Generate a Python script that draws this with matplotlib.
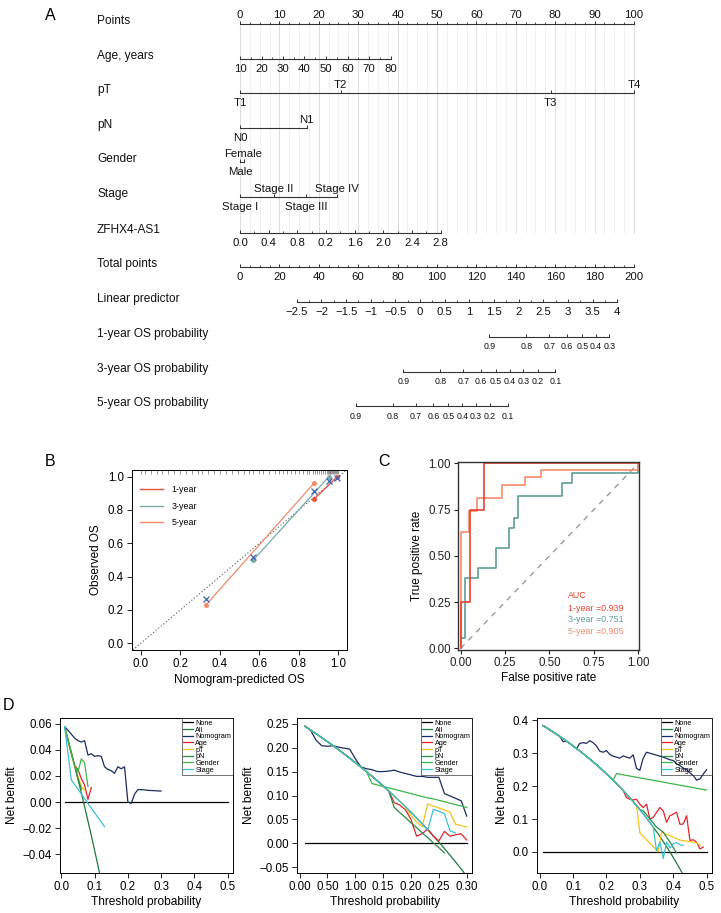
import numpy as np
import matplotlib.pyplot as plt

plt.rcParams['font.family'] = ['Liberation Sans', 'DejaVu Sans']
plt.rcParams['axes.linewidth'] = 0.7

W, H = 721, 913

# ---------------- A: nomogram (positions in "points", 0-100) ----------------
points_ticks = list(range(0, 101, 10))
age_labels = ['10', '20', '30', '40', '50', '60', '70', '80']
age_pts = [0, 5.46, 10.91, 16.37, 21.83, 27.29, 32.74, 38.2]
pt_labels = ['T1', 'T2', 'T3', 'T4']
pt_pts = [0, 25.6, 78.9, 100]
pn_labels = ['N0', 'N1']
pn_pts = [0, 16.9]
gender_labels = ['Female', 'Male']
gender_pts = [0.9, 0]
stage_labels = ['Stage I', 'Stage II', 'Stage III', 'Stage IV']
stage_pts = [0, 8.6, 16.7, 24.5]
zfhx_labels = ['0.0', '0.4', '0.8', '0.2', '1.6', '2.0', '2.4', '2.8']
zfhx_pts = [0, 7.27, 14.54, 21.81, 29.09, 36.36, 43.63, 50.9]
total_ticks = list(range(0, 201, 20))
lp_ticks = [-2.5, -2, -1.5, -1, -0.5, 0, 0.5, 1, 1.5, 2, 2.5, 3, 3.5, 4]
os1_ticks = [0.9, 0.8, 0.7, 0.6, 0.5, 0.4, 0.3]
os3_ticks = [0.9, 0.8, 0.7, 0.6, 0.5, 0.4, 0.3, 0.2, 0.1]
os5_ticks = [0.9, 0.8, 0.7, 0.6, 0.5, 0.4, 0.3, 0.2, 0.1]
# total points where the linear predictor is 0, and per unit of predictor
lp_zero, lp_slope = 91.4, 25.03
# total points offset of log(-log S) for 1, 3, 5 years
os_offset = {1: 182.9, 3: 139.2, 5: 115.0}

# ---------------- B: calibration ----------------
cal1_pred = [0.878, 0.994]
cal1_obs = [0.866, 1.0]
cal3_pred = [0.570, 0.952]
cal3_obs = [0.500, 1.0]
cal5_pred = [0.329, 0.878]
cal5_obs = [0.228, 0.963]
corr_pred = [0.329, 0.570, 0.878, 0.952, 0.994]
corr_obs = [0.264, 0.516, 0.914, 0.976, 0.990]
rug = [0.0, 0.02, 0.05, 0.08, 0.11, 0.14, 0.17, 0.2, 0.23, 0.26, 0.29, 0.31, 0.34, 0.37,
       0.4, 0.43, 0.46, 0.49, 0.52, 0.55, 0.57, 0.6, 0.62, 0.65, 0.68, 0.7, 0.72, 0.74,
       0.76, 0.78, 0.8, 0.82, 0.84, 0.85, 0.87, 0.88, 0.89, 0.9, 0.91, 0.92, 0.93, 0.94,
       0.945, 0.95, 0.955, 0.96, 0.965, 0.97, 0.975, 0.98, 0.985, 0.99, 0.995, 1.0]

# ---------------- C: ROC ----------------
roc1_fpr = [0, 0, 0.055, 0.055, 0.13, 0.13, 1.0]
roc1_tpr = [0, 0.25, 0.25, 0.75, 0.75, 1.0, 1.0]
roc3_fpr = [0, 0, 0.024, 0.024, 0.1, 0.1, 0.2, 0.2, 0.272, 0.272, 0.3, 0.3, 0.325, 0.325,
            0.572, 0.572, 0.625, 0.625, 1.0, 1.0]
roc3_tpr = [0, 0.054, 0.054, 0.378, 0.378, 0.432, 0.432, 0.54, 0.54, 0.649, 0.649, 0.703,
            0.703, 0.822, 0.822, 0.892, 0.892, 0.946, 0.946, 1.0]
roc5_fpr = [0, 0, 0.045, 0.045, 0.09, 0.09, 0.23, 0.23, 0.36, 0.36, 0.455, 0.455, 1.0, 1.0]
roc5_tpr = [0, 0.63, 0.63, 0.74, 0.74, 0.815, 0.815, 0.885, 0.885, 0.925, 0.925, 0.963, 0.963, 1.0]
auc_text = ['1-year =0.939', '3-year =0.751', '5-year =0.905']

# ---------------- D: decision curves ----------------
thr = [round(0.01 * i, 2) for i in range(1, 51)]

# 1-year
d1_all = [0.0573, 0.0477, 0.0378, 0.0278, 0.0176, 0.0071, -0.0036, -0.0145, -0.0256, -0.0370, -0.0487, -0.0606]
d1_nomo = [0.0577, 0.055, 0.052, 0.049, 0.047, 0.046, 0.047, 0.036, 0.037, 0.035, 0.0355, 0.035,
           0.027, 0.025, 0.024, 0.022, 0.027, 0.0255, 0.027, 0.0, -0.001, 0.006, 0.0095, 0.0095,
           0.0093, 0.009, 0.0088, 0.0087, 0.0085, 0.0084]
d1_age = [0.0577, 0.0475, 0.0375, 0.028, 0.025, 0.018, 0.013, 0.002, 0.011]
d1_pt = [0.0577, 0.0475, 0.0375, 0.027, 0.02, 0.012, 0.009]
d1_pn = [0.0577, 0.0475, 0.0375, 0.028, 0.018, 0.01]
d1_gender = [0.0577, 0.048, 0.038, 0.028, 0.023, 0.033, 0.030, 0.012]
d1_stage_x = [0.01, 0.03, 0.13]
d1_stage = [0.0577, 0.017, -0.019]

# 3-year
d3_all = [0.2444, 0.2367, 0.2289, 0.2208, 0.2126, 0.2043, 0.1957, 0.1870, 0.1780, 0.1689,
          0.1595, 0.1500, 0.1402, 0.1302, 0.1200, 0.1095, 0.0988, 0.0878, 0.0765, 0.0650,
          0.0532, 0.0410, 0.0286, 0.0158, 0.0027, -0.0108, -0.0247, -0.0389, -0.0535, -0.0686]
d3_nomo = [0.245, 0.236, 0.215, 0.204, 0.203, 0.204, 0.201, 0.199, 0.197, 0.177, 0.160, 0.156,
           0.154, 0.150, 0.150, 0.151, 0.153, 0.149, 0.146, 0.143, 0.140, 0.140, 0.138, 0.138,
           0.138, 0.104, 0.099, 0.094, 0.089, 0.057]
d3_age = d3_all[:16] + [0.085, 0.080, 0.070, 0.050, 0.015, 0.020, 0.030, 0.015, 0.005, 0.025,
                        0.015, 0.018, 0.020, 0.007]
d3_pt = d3_all[:19] + [0.058, 0.045, 0.035, 0.082, 0.078, 0.074, 0.070, 0.065, 0.040, 0.037, 0.034]
d3_pn = d3_all[:16] + [0.075, 0.064, 0.054, 0.043, 0.033, 0.022, 0.012, 0.001, -0.009, -0.020]
d3_gender = d3_all[:12] + [0.125, 0.122, 0.119, 0.116, 0.113, 0.110, 0.107, 0.104, 0.101,
                           0.098, 0.095, 0.093, 0.090, 0.087, 0.084, 0.081, 0.078, 0.075]
d3_stage = d3_all[:22] + [0.027, 0.071, 0.067, 0.062, 0.026, 0.022]

# 5-year
d5_all = [0.3838, 0.3776, 0.3711, 0.3646, 0.3579, 0.3511, 0.3441, 0.3370, 0.3297, 0.3222,
          0.3146, 0.3068, 0.2988, 0.2906, 0.2824, 0.2738, 0.2651, 0.2561, 0.2469, 0.2375,
          0.2278, 0.2179, 0.2078, 0.1974, 0.1867, 0.1757, 0.1644, 0.1528, 0.1408, 0.1286,
          0.1159, 0.1029, 0.0896, 0.0758, 0.0615, 0.0469, 0.0317, 0.0161, 0.0, -0.0167,
          -0.0339, -0.0517, -0.0702]
d5_nomo = [0.384, 0.378, 0.371, 0.365, 0.358, 0.352, 0.335, 0.337, 0.330, 0.322, 0.313, 0.330,
           0.332, 0.330, 0.338, 0.332, 0.322, 0.306, 0.303, 0.308, 0.296, 0.291, 0.288, 0.285,
           0.292, 0.288, 0.285, 0.295, 0.254, 0.248, 0.285, 0.303, 0.300, 0.297, 0.294, 0.291,
           0.288, 0.284, 0.280, 0.278, 0.268, 0.262, 0.255, 0.250, 0.240, 0.232, 0.218, 0.222,
           0.237, 0.250]
d5_age = d5_all[:25] + [0.165, 0.160, 0.158, 0.160, 0.145, 0.135, 0.145, 0.100, 0.105, 0.120,
                        0.135, 0.125, 0.090, 0.110, 0.115, 0.121, 0.084, 0.085, 0.110, 0.035,
                        0.037, 0.030, 0.009, 0.015]
d5_pt_x = thr[:29] + [0.30, 0.355, 0.365, 0.42, 0.47, 0.48]
d5_pt = d5_all[:29] + [0.058, 0.0, 0.060, 0.036, 0.028, 0.020]
d5_pn = d5_all[:30] + [0.125, 0.113, 0.100, 0.088, 0.075, 0.068, 0.060, 0.045, 0.030, 0.013, -0.003]
d5_gender_x = thr[:22] + [0.23, 0.50]
d5_gender = d5_all[:22] + [0.238, 0.188]
d5_stage = d5_all[:33] + [0.076, 0.003, 0.030, -0.020, 0.030, 0.012, 0.025, 0.028, 0.022, 0.020]

c_none, c_all, c_nomo = 'black', '#1e7a3c', '#1b2c63'
c_age, c_pt, c_pn, c_gender, c_stage = '#e3242b', '#f5c21b', '#2b8a45', '#3cb54a', '#3fc0d2'


def box(l, t, r, b):
    return [l / W, 1 - b / H, (r - l) / W, (b - t) / H]


fig = plt.figure(figsize=(W / 100, H / 100), dpi=100)

# ================= A =================
ax = fig.add_axes([0, 1 - 430 / H, 1, 430 / H])
ax.set_xlim(-240 / 3.94, (W - 240) / 3.94)
ax.set_ylim(430, 0)
ax.axis('off')

# background grid
minor_grid = np.arange(0, 100.1, 2.5)
ax.vlines(minor_grid, 24, 233, color='#f0f0f0', lw=0.7, zorder=0)
ax.vlines(points_ticks, 24, 233, color='#dedede', lw=0.8, zorder=0)

row_y = [24, 59.3, 93.3, 128.3, 162.3, 197.3, 232.7, 267.3, 301.7, 336.7, 371.7, 406]
row_names = ['Points', 'Age, years', 'pT', 'pN', 'Gender', 'Stage', 'ZFHX4-AS1', 'Total points',
             'Linear predictor', '1-year OS probability', '3-year OS probability',
             '5-year OS probability']
for y, name in zip(row_y, row_names):
    ax.text(97 / W, y - 3, name, transform=ax.get_yaxis_transform(), ha='left', va='center',
            fontsize=8.6, color='#111111')

lc = '#333333'


def scale_row(y, pos, labels, sides, minor=None, fs=8.2):
    ax.plot([min(pos), max(pos)], [y, y], color=lc, lw=0.8)
    ax.vlines(pos, y - 3, y, color=lc, lw=0.7)
    if minor is not None:
        ax.vlines(minor, y - 2, y, color=lc, lw=0.6)
    for p, lab, s in zip(pos, labels, sides):
        if s == 'below':
            ax.text(p, y + 10, lab, ha='center', va='center', fontsize=fs, color='#111111')
        else:
            ax.text(p, y - 8.5, lab, ha='center', va='center', fontsize=fs, color='#111111')


scale_row(24, points_ticks, [str(v) for v in points_ticks], ['above'] * 11,
          minor=np.arange(0, 100.1, 2.5))
scale_row(59.3, age_pts, age_labels, ['below'] * 8,
          minor=[(a + b) / 2 for a, b in zip(age_pts[:-1], age_pts[1:])])
scale_row(93.3, pt_pts, pt_labels, ['below', 'above', 'below', 'above'])
scale_row(128.3, pn_pts, pn_labels, ['below', 'above'])
scale_row(162.3, gender_pts, gender_labels, ['above', 'below'])
scale_row(197.3, stage_pts, stage_labels, ['below', 'above', 'below', 'above'])
scale_row(232.7, zfhx_pts, zfhx_labels, ['below'] * 8,
          minor=[(a + b) / 2 for a, b in zip(zfhx_pts[:-1], zfhx_pts[1:])])
scale_row(267.3, [t / 2 for t in total_ticks], [str(t) for t in total_ticks], ['below'] * 11,
          minor=np.arange(0, 100.1, 2.5))
lp_pos = [(lp_zero + lp_slope * v) / 2 for v in lp_ticks]
lp_lab = [('%g' % v).replace('-', '\u2212') for v in lp_ticks]
scale_row(301.7, lp_pos, lp_lab, ['below'] * len(lp_ticks),
          minor=[(a + b) / 2 for a, b in zip(lp_pos[:-1], lp_pos[1:])])
for yr, ticks, y in [(1, os1_ticks, 336.7), (3, os3_ticks, 371.7), (5, os5_ticks, 406)]:
    pos = [(os_offset[yr] + lp_slope * np.log(-np.log(s))) / 2 for s in ticks]
    scale_row(y, pos, ['%.1f' % s for s in ticks], ['below'] * len(ticks), fs=6.3)

# ================= B =================
axb = fig.add_axes(box(132.3, 470, 346.7, 650))
axb.set_xlim(-0.0425, 1.042)
axb.set_ylim(-0.04, 1.04)
axb.plot([-0.04, 1.04], [-0.04, 1.04], ls=(0, (1, 2)), color='#555555', lw=0.8)
axb.vlines(rug, 1.013, 1.04, color='#7a7a7a', lw=0.7, alpha=0.8)
cb1, cb3, cb5, cbx = '#e8503a', '#76aca4', '#f38a6b', '#4163b0'
axb.plot(cal5_pred, cal5_obs, color=cb5, lw=0.9)
axb.plot(cal3_pred, cal3_obs, color=cb3, lw=0.9)
axb.plot(cal1_pred, cal1_obs, color=cb1, lw=0.9)
axb.plot(cal5_pred, cal5_obs, 'o', color=cb5, ms=3.6, mec='none')
axb.plot(cal3_pred, cal3_obs, 'o', color=cb3, ms=3.6, mec='none')
axb.plot(cal1_pred, cal1_obs, 'o', color=cb1, ms=3.6, mec='none')
axb.plot(corr_pred, corr_obs, 'x', color=cbx, ms=4.5, mew=0.9)
h1, = axb.plot([], [], color=cb1, lw=1.0, label='1-year')
h3, = axb.plot([], [], color=cb3, lw=1.0, label='3-year')
h5, = axb.plot([], [], color=cb5, lw=1.0, label='5-year')
axb.legend(handles=[h1, h3, h5], loc='upper left', bbox_to_anchor=(0.0, 0.96), frameon=False,
           fontsize=6.4, handlelength=2.6, labelspacing=0.85, handletextpad=0.9)
axb.set_xticks(np.arange(0, 1.01, 0.2))
axb.set_yticks(np.arange(0, 1.01, 0.2))
axb.xaxis.set_major_formatter(plt.FormatStrFormatter('%.1f'))
axb.yaxis.set_major_formatter(plt.FormatStrFormatter('%.1f'))
axb.tick_params(direction='out', length=3.5, width=0.6, labelsize=8.3, pad=2.5)
axb.set_xlabel('Nomogram-predicted OS', fontsize=8.5, labelpad=3)
axb.set_ylabel('Observed OS', fontsize=8.5, labelpad=4)

# ================= C =================
axc = fig.add_axes(box(457.7, 461.7, 639.3, 650))
axc.set_xlim(-0.017, 1.006)
axc.set_ylim(-0.009, 1.009)
cc1, cc3, cc5 = '#e8412c', '#5e9e93', '#f58b6c'
axc.plot([0, 1], [0, 1], ls=(0, (4, 4)), color='#9a9a9a', lw=1.0)
axc.plot(roc3_fpr, roc3_tpr, color=cc3, lw=1.2)
axc.plot(roc5_fpr, roc5_tpr, color=cc5, lw=1.2)
axc.plot(roc1_fpr, roc1_tpr, color=cc1, lw=1.2)
axc.text(0.605, 0.285, 'AUC', color=cc1, fontsize=6.4, va='center')
for i, (txt, col) in enumerate(zip(auc_text, [cc1, cc3, cc5])):
    axc.text(0.605, 0.218 - i * 0.063, txt, color=col, fontsize=6.4, va='center')
axc.set_xticks([0, 0.25, 0.5, 0.75, 1.0])
axc.set_yticks([0, 0.25, 0.5, 0.75, 1.0])
axc.xaxis.set_major_formatter(plt.FormatStrFormatter('%.2f'))
axc.yaxis.set_major_formatter(plt.FormatStrFormatter('%.2f'))
for s in axc.spines.values():
    s.set_linewidth(1.0)
    s.set_color('#333333')
axc.tick_params(direction='out', length=3, width=0.8, labelsize=8.3, pad=2, colors='#222222')
axc.set_xlabel('False positive rate', fontsize=8.5, labelpad=2)
axc.set_ylabel('True positive rate', fontsize=8.5, labelpad=4)


# ================= D =================
def dca(ax, curves, xlim, ylim, xt, xtl, yt, ytl):
    for x, y, c, lab in curves:
        ax.plot(x, y, color=c, lw=0.9, label=lab)
    ax.set_xlim(*xlim)
    ax.set_ylim(*ylim)
    ax.set_xticks(xt)
    ax.set_xticklabels(xtl)
    ax.set_yticks(yt)
    ax.set_yticklabels(ytl)
    ax.tick_params(direction='out', length=3.5, width=0.6, labelsize=8.3, pad=2.5)
    ax.set_xlabel('Threshold probability', fontsize=8.6, labelpad=2)
    ax.set_ylabel('Net benefit', fontsize=8.6, labelpad=3)
    leg = ax.legend(loc='upper right', fontsize=5.2, frameon=True, fancybox=False,
                    edgecolor='#333333', borderpad=0.2, labelspacing=-0.05, handlelength=1.4,
                    handletextpad=0.3, borderaxespad=0.05)
    leg.get_frame().set_facecolor('none')
    leg.get_frame().set_linewidth(0.6)


ax1 = fig.add_axes(box(60, 718, 233, 873))
dca(ax1, [
    (thr, [0] * 50, c_none, 'None'),
    (thr[:12], d1_all, c_all, 'All'),
    (thr[:30], d1_nomo, c_nomo, 'Nomogram'),
    (thr[:9], d1_age, c_age, 'Age'),
    (thr[:7], d1_pt, c_pt, 'pT'),
    (thr[:6], d1_pn, c_pn, 'pN'),
    (thr[:8], d1_gender, c_gender, 'Gender'),
    (d1_stage_x, d1_stage, c_stage, 'Stage'),
], (-0.004, 0.516), (-0.0544, 0.0644), np.arange(0, 0.51, 0.1),
    ['0.0', '0.1', '0.2', '0.3', '0.4', '0.5'], [-0.04, -0.02, 0, 0.02, 0.04, 0.06],
    ['\u22120.04', '\u22120.02', '0.00', '0.02', '0.04', '0.06'])

ax2 = fig.add_axes(box(297.3, 718, 472.3, 873))
dca(ax2, [
    (thr[:30], [0] * 30, c_none, 'None'),
    (thr[:30], d3_all, c_all, 'All'),
    (thr[:30], d3_nomo, c_nomo, 'Nomogram'),
    (thr[:30], d3_age, c_age, 'Age'),
    (thr[:30], d3_pt, c_pt, 'pT'),
    (thr[:26], d3_pn, c_pn, 'pN'),
    (thr[:30], d3_gender, c_gender, 'Gender'),
    (thr[:28], d3_stage, c_stage, 'Stage'),
], (-0.004, 0.31), (-0.062, 0.262), np.arange(0, 0.301, 0.05),
    ['0.00', '0.50', '1.00', '0.15', '0.20', '0.25', '0.30'], np.arange(-0.05, 0.251, 0.05),
    ['\u22120.05', '0.00', '0.05', '0.10', '0.15', '0.20', '0.25'])

ax3 = fig.add_axes(box(537, 718, 712, 873))
dca(ax3, [
    (thr, [0] * 50, c_none, 'None'),
    (thr[:43], d5_all, c_all, 'All'),
    (thr, d5_nomo, c_nomo, 'Nomogram'),
    (thr[:49], d5_age, c_age, 'Age'),
    (d5_pt_x, d5_pt, c_pt, 'pT'),
    (thr[:41], d5_pn, c_pn, 'pN'),
    (d5_gender_x, d5_gender, c_gender, 'Gender'),
    (thr[:43], d5_stage, c_stage, 'Stage'),
], (-0.008, 0.516), (-0.064, 0.407), np.arange(0, 0.51, 0.1),
    ['0.0', '0.1', '0.2', '0.3', '0.4', '0.5'], np.arange(0, 0.41, 0.1),
    ['0.0', '0.1', '0.2', '0.3', '0.4'])

# panel letters
for lab, x, y in [('A', 50, 15), ('B', 50, 461), ('C', 384, 462), ('D', 8, 705)]:
    fig.text(x / W, 1 - y / H, lab, fontsize=11.5, ha='center', va='center')

fig.savefig('out.png', dpi=100)
